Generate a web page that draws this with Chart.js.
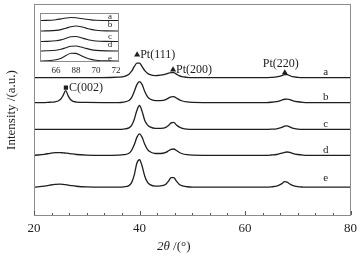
<!DOCTYPE html>
<html>
<head>
<meta charset="utf-8">
<script src="https://cdn.jsdelivr.net/npm/chart.js@4.4.0/dist/chart.umd.min.js"></script>
<style>
body { margin: 0; background: #fff; }
#wrap { position: relative; width: 362px; height: 259px; }
#main { position: absolute; left: 0; top: 0; }
#inset { position: absolute; left: 36px; top: 12px; }
</style>
</head>
<body>
<div id="wrap">
<canvas id="main" width="362" height="259"></canvas>
<canvas id="inset" width="88" height="64"></canvas>
</div>
<script>
// 2theta positions (deg) and intensities above each baseline
var twoTheta = [20, 22, 23, 24, 25, 25.5, 26, 26.5, 27, 28, 30, 33, 36, 37, 38, 38.5, 39, 39.5, 40, 40.5, 41, 41.5, 42, 43, 44, 45, 45.5, 46, 46.5, 47, 47.5, 48, 49, 50, 55, 60, 64, 65, 66, 67, 67.5, 68, 68.5, 69, 70, 71, 72, 75, 80];
var curveA = [0,0,0,0,0, 0,0,0,0,0, 0,0,0.5,1,3.5, 6.5,11,14.5,14.5,11, 7,4.5,3,2,2.5, 3.5,4.5,5,5,3.5, 2,1,0.3,0,0, 0,0,0.3,0.8,2, 3,3,2,1,0.3, 0,0,0,0];
var curveB = [0,0,0.3,0.6,3, 7,12,6.5,2.5,0.5, 0.1,0,0,0.5,2, 5,11,18,21,18, 11,6,3.5,2,2, 3,4.5,5.8,6,4.5, 3,1.8,0.6,0.2,0, 0,0,0.3,1,2.5, 3.3,3.5,3,2,0.8, 0.2,0,0,0];
var curveC = [0,0,0,0,0, 0,0,0,0,0, 0,0,0,0.3,1.5, 4,10,19,24,18, 9,4.5,2.5,1,1, 2,4,6.5,7,4.5, 2.5,1.2,0.3,0,0, 0,0,0.2,0.6,2, 3.2,3.5,2.5,1.3,0.3, 0,0,0,0];
var curveD = [0,1,2,2.7,2.7, 2.5,2.2,1.9,1.5,0.8, 0.2,0,0.2,0.6,2, 5,10.5,18,21.5,18, 11,6,3.5,1.8,1.8, 3,4.5,6,6.3,4.8, 3,1.8,0.6,0.2,0, 0,0,0.3,0.8,2.2, 3,3.3,3,2,0.8, 0.2,0,0,0];
var curveE = [0,1,2,2.8,3, 2.8,2.5,2,1.6,0.9, 0.2,0,0,0.3,1.5, 4.5,12,24,27.5,21, 11,5,2.5,1,1.2, 3,6,9.5,9.5,6, 3,1.5,0.4,0,0, 0,0,0.3,1,3.5, 5.5,5,3.2,1.8,0.5, 0.1,0,0,0];
var offsets = [139, 114, 87, 61, 29];
var names = ['a', 'b', 'c', 'd', 'e'];

// peak markers
var peakNames = ['Pt(111)', 'Pt(200)', 'Pt(220)', 'C(002)'];
var peakX = [39.55, 46.36, 67.55, 26.05];
var peakY = [162, 147, 144, 129];
var peakStyles = ['triangle', 'triangle', 'triangle', 'rect'];

// inset (zoom on Pt(220))
var insetTheta = [64.4, 65, 66, 66.5, 67, 67.5, 68, 68.5, 69, 69.5, 70, 71, 72.3];
var insetA = [0, 0.1, 0.8, 1.6, 2.5, 3, 2.8, 2, 1.2, 0.6, 0.3, 0, 0];
var insetB = [0, 0.1, 0.6, 1.4, 2.8, 4.3, 5, 4.3, 2.9, 1.6, 0.8, 0.1, 0];
var insetC = [0, 0.1, 0.7, 1.6, 3.2, 4.7, 5, 3.8, 2.4, 1.2, 0.5, 0.1, 0];
var insetD = [0, 0.2, 0.8, 1.7, 3.3, 4.7, 5, 4, 2.6, 1.4, 0.6, 0.1, 0];
var insetE = [0, 0.2, 1.2, 2.8, 5.5, 7.8, 7.6, 5.5, 3.2, 1.6, 0.7, 0.1, 0];
var insetOffsets = [41.5, 31, 20.5, 11, 1];
var insetTickLabels = {66: '66', 68: '88', 70: '70', 72: '72'};

var ink = '#1e1e1e';
var serif = '"Liberation Serif", "DejaVu Serif", serif';

function toPoints(xs, ys, off) {
    return ys.map(function (y, i) { return {x: xs[i], y: y + off}; });
}

function lineSets(xs, curves, offs, width) {
    return curves.map(function (c, i) {
        return {
            label: names[i],
            data: toPoints(xs, c, offs[i]),
            borderColor: ink,
            borderWidth: width,
            pointRadius: 0,
            fill: false,
            cubicInterpolationMode: 'monotone'
        };
    });
}

function drawFrame(chart) {
    var ctx = chart.ctx, a = chart.chartArea;
    ctx.save();
    ctx.strokeStyle = '#8c8c8c';
    ctx.lineWidth = 1;
    ctx.strokeRect(Math.round(a.left) + 0.5, Math.round(a.top) + 0.5,
        Math.round(a.right - a.left) - 1, Math.round(a.bottom - a.top) - 1);
    ctx.restore();
}

var mainPlugin = {
    id: 'mainDeco',
    afterDraw: function (chart) {
        var ctx = chart.ctx, xs = chart.scales.x, ys = chart.scales.y;
        var a = chart.chartArea;
        drawFrame(chart);
        ctx.save();
        // inward ticks
        ctx.strokeStyle = '#555';
        ctx.lineWidth = 1;
        xs.ticks.forEach(function (t) {
            var px = Math.round(xs.getPixelForValue(t.value)) + 0.5;
            var len = t.label ? 4 : 2;
            ctx.beginPath();
            ctx.moveTo(px, a.bottom - 1);
            ctx.lineTo(px, a.bottom - 1 - len);
            ctx.stroke();
        });
        ctx.fillStyle = ink;
        ctx.font = '12px ' + serif;
        ctx.textBaseline = 'middle';
        // peak labels
        for (var i = 0; i < peakNames.length; i++) {
            var px = xs.getPixelForValue(peakX[i]);
            var py = ys.getPixelForValue(peakY[i]);
            if (peakNames[i] === 'Pt(220)') {
                ctx.textAlign = 'center';
                ctx.fillText(peakNames[i], px - 4, py - 9);
            } else {
                ctx.textAlign = 'left';
                ctx.fillText(peakNames[i], px + 3, py);
            }
        }
        // series letters
        var letterY = [142, 116.5, 89, 63.5, 35.5];
        ctx.font = '11px ' + serif;
        ctx.textAlign = 'center';
        ctx.textBaseline = 'alphabetic';
        names.forEach(function (n, i) {
            ctx.fillText(n, xs.getPixelForValue(75.3), ys.getPixelForValue(letterY[i]));
        });
        // x title: italic 2θ + upright /(°)
        ctx.textBaseline = 'middle';
        ctx.textAlign = 'left';
        var cx = xs.getPixelForValue(46.5), cy = 247;
        ctx.font = 'italic 13px ' + serif;
        var w1 = ctx.measureText('2\u03b8').width;
        ctx.font = '13px ' + serif;
        var w2 = ctx.measureText(' /(\u00b0)').width;
        var x0 = cx - (w1 + w2) / 2;
        ctx.font = 'italic 13px ' + serif;
        ctx.fillText('2\u03b8', x0, cy);
        ctx.font = '13px ' + serif;
        ctx.fillText(' /(\u00b0)', x0 + w1, cy);
        ctx.restore();
    }
};

var mainSets = lineSets(twoTheta, [curveA, curveB, curveC, curveD, curveE], offsets, 1.3);
mainSets.push({
    label: 'peaks',
    data: peakX.map(function (x, i) { return {x: x, y: peakY[i]}; }),
    showLine: false,
    pointStyle: peakStyles,
    pointRadius: [3.5, 3.5, 3.5, 3],
    pointBackgroundColor: ink,
    pointBorderColor: ink,
    pointBorderWidth: 0
});

new Chart(document.getElementById('main').getContext('2d'), {
    type: 'line',
    data: {datasets: mainSets},
    options: {
        responsive: false,
        animation: false,
        layout: {padding: {top: 3, right: 11, left: 0, bottom: 0}},
        plugins: {legend: {display: false}, tooltip: {enabled: false}},
        scales: {
            x: {
                type: 'linear',
                min: 20,
                max: 80,
                grid: {display: false, drawTicks: false},
                border: {display: false},
                ticks: {
                    stepSize: 10 / 3,
                    autoSkip: false,
                    maxRotation: 0,
                    padding: 5,
                    color: ink,
                    font: {family: serif, size: 13},
                    callback: function (v) {
                        var r = Math.round(v / 20);
                        return Math.abs(v / 20 - r) < 1e-6 ? String(r * 20) : '';
                    }
                },
                afterFit: function (s) { s.height = 43; }
            },
            y: {
                min: 0,
                max: 213,
                grid: {display: false},
                border: {display: false},
                ticks: {display: false},
                title: {
                    display: true,
                    text: 'Intensity /(a.u.)',
                    color: ink,
                    font: {family: serif, size: 13},
                    padding: {top: 4, bottom: 0}
                },
                afterFit: function (s) { s.width = 34; }
            }
        }
    },
    plugins: [mainPlugin]
});

var insetPlugin = {
    id: 'insetDeco',
    afterDraw: function (chart) {
        var ctx = chart.ctx, xs = chart.scales.x, ys = chart.scales.y;
        drawFrame(chart);
        var letterY = [45, 37, 25, 17, 3];
        ctx.save();
        ctx.fillStyle = ink;
        ctx.font = '9px ' + serif;
        ctx.textAlign = 'center';
        ctx.textBaseline = 'middle';
        names.forEach(function (n, i) {
            ctx.fillText(n, xs.getPixelForValue(71.4), ys.getPixelForValue(letterY[i]));
        });
        ctx.restore();
    }
};

new Chart(document.getElementById('inset').getContext('2d'), {
    type: 'line',
    data: {datasets: lineSets(insetTheta, [insetA, insetB, insetC, insetD, insetE], insetOffsets, 1.1)},
    options: {
        responsive: false,
        animation: false,
        layout: {padding: {top: 1, right: 5, left: 4, bottom: 0}},
        plugins: {legend: {display: false}, tooltip: {enabled: false}},
        scales: {
            x: {
                type: 'linear',
                min: 64.4,
                max: 72.3,
                grid: {display: false, drawTicks: false},
                border: {display: false},
                ticks: {
                    stepSize: 2,
                    includeBounds: false,
                    autoSkip: false,
                    maxRotation: 0,
                    padding: 3,
                    color: ink,
                    font: {family: serif, size: 9},
                    callback: function (v) { return insetTickLabels[v] || ''; }
                },
                afterFit: function (s) { s.height = 14; }
            },
            y: {display: false, min: 0, max: 49}
        }
    },
    plugins: [insetPlugin]
});
</script>
</body>
</html>
